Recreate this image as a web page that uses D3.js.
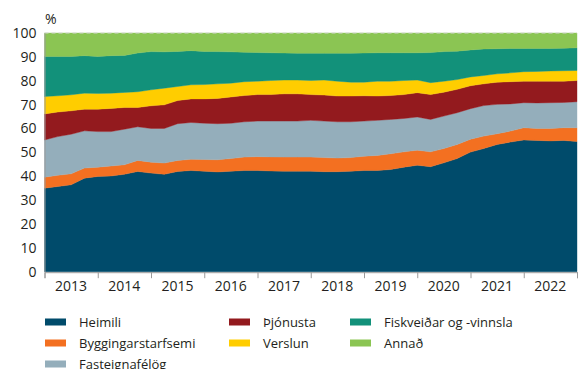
<!DOCTYPE html>
<html>
<head>
<meta charset="utf-8">
<script src="https://cdn.jsdelivr.net/npm/d3@7"></script>
<style>
  html, body { margin: 0; padding: 0; background: #fff; }
  svg { display: block; }
  text { font-family: "Open Sans", "Noto Sans", sans-serif; fill: #231f20; }
</style>
</head>
<body>
<svg id="chart" width="579" height="369"></svg>
<script>
// Quarterly observations, end of 2012 through end of 2022
const quarters = [
  "2012Q4",
  "2013Q1","2013Q2","2013Q3","2013Q4",
  "2014Q1","2014Q2","2014Q3","2014Q4",
  "2015Q1","2015Q2","2015Q3","2015Q4",
  "2016Q1","2016Q2","2016Q3","2016Q4",
  "2017Q1","2017Q2","2017Q3","2017Q4",
  "2018Q1","2018Q2","2018Q3","2018Q4",
  "2019Q1","2019Q2","2019Q3","2019Q4",
  "2020Q1","2020Q2","2020Q3","2020Q4",
  "2021Q1","2021Q2","2021Q3","2021Q4",
  "2022Q1","2022Q2","2022Q3","2022Q4"
];

// Share of total (%) by sector
const heimili = [35.0,35.7,36.4,39.2,39.9,40.1,40.8,42.0,41.3,40.8,42.0,42.4,42.1,41.8,42.1,42.4,42.4,42.2,42.1,42.1,42.1,41.9,41.9,42.1,42.4,42.4,42.8,43.8,44.6,44.0,45.6,47.4,50.1,51.6,53.3,54.3,55.2,55.0,54.8,55.0,54.5];
const bygg    = [4.6,4.7,4.6,4.2,3.9,4.2,4.0,4.6,4.6,4.7,4.6,4.7,4.9,5.1,5.3,5.6,5.8,5.9,5.9,5.9,5.9,5.9,5.7,5.7,6.0,6.3,6.6,6.4,6.3,6.2,6.0,5.9,5.4,5.2,4.5,4.6,5.1,5.0,5.2,5.3,5.8];
const fast    = [15.6,16.2,16.6,15.6,14.9,14.4,14.9,14.1,14.1,14.5,15.4,15.4,15.2,15.1,14.8,14.8,14.9,15.0,15.1,15.1,15.4,15.3,15.2,15.0,14.7,14.7,14.4,14.0,13.9,13.6,13.6,13.3,12.8,12.8,12.3,11.4,10.5,10.7,10.8,10.6,10.9];
const thjon   = [10.9,10.3,9.8,9.1,9.4,9.7,9.1,8.1,9.5,9.9,9.7,9.9,10.2,10.6,11.0,11.0,11.1,11.1,11.4,11.4,10.8,10.9,10.8,10.8,10.6,10.2,10.0,10.0,10.2,10.4,10.0,9.8,9.6,9.1,9.3,9.3,9.0,9.1,9.0,8.9,8.9];
const versl   = [7.3,6.8,6.7,6.7,6.6,6.4,6.3,6.6,6.7,7.0,5.9,5.9,6.0,6.1,5.8,5.8,5.6,5.9,5.8,5.8,5.9,6.3,6.2,5.8,5.7,6.2,6.0,5.9,5.3,5.0,4.6,4.1,3.7,3.5,3.5,3.7,4.0,4.1,4.3,4.4,4.2];
const fisk    = [16.8,16.5,16.1,15.7,15.5,15.7,15.5,16.2,16.0,15.2,14.7,14.3,13.9,13.5,13.1,12.3,12.0,11.6,11.3,11.2,11.4,11.2,11.7,12.1,12.2,11.9,11.9,11.6,11.4,12.6,12.4,11.9,11.3,11.1,10.5,10.2,9.7,9.6,9.4,9.4,9.5];
const annad   = [9.8,9.8,9.8,9.5,9.8,9.5,9.4,8.4,7.8,7.9,7.7,7.4,7.7,7.8,7.9,8.1,8.2,8.3,8.4,8.5,8.5,8.5,8.5,8.5,8.4,8.3,8.3,8.3,8.3,8.2,7.8,7.6,7.1,6.7,6.6,6.5,6.5,6.5,6.5,6.4,6.2];

const seriesNames = ["Heimili","Byggingarstarfsemi","Fasteignafélög","Þjónusta","Verslun","Fiskveiðar og -vinnsla","Annað"];
const seriesValues = [heimili, bygg, fast, thjon, versl, fisk, annad];
const seriesColors = ["#004b6b","#f37021","#94aebb","#931a1e","#ffcd00","#12917a","#8bc553"];

const yearLabels = ["2013","2014","2015","2016","2017","2018","2019","2020","2021","2022"];
const yTicks = [0,10,20,30,40,50,60,70,80,90,100];

// Rows for the stack layout
const rows = quarters.map((q, i) => {
  const r = { q };
  seriesNames.forEach((n, j) => { r[n] = seriesValues[j][i]; });
  return r;
});

const svg = d3.select("#chart");
const plot = { left: 44.5, right: 577, top: 33, bottom: 271.7 };

const x = d3.scalePoint().domain(quarters).range([plot.left, plot.right]);
const y = d3.scaleLinear().domain([0, 100]).range([plot.bottom, plot.top]);

const stacked = d3.stack().keys(seriesNames)(rows);

const area = d3.area()
  .x(d => x(d.data.q))
  .y0(d => y(d[0]))
  .y1(d => y(d[1]));

svg.append("g").selectAll("path")
  .data(stacked)
  .join("path")
  .attr("d", area)
  .attr("fill", (d, i) => seriesColors[i])
  .attr("stroke", (d, i) => seriesColors[i])
  .attr("stroke-width", 0.4);

// Dashed line at 100
svg.append("line")
  .attr("x1", plot.left).attr("x2", plot.right)
  .attr("y1", y(100)).attr("y2", y(100))
  .attr("stroke", "#d6d6d6").attr("stroke-width", 1)
  .attr("stroke-dasharray", "4,3");

// Y axis
const yAxis = d3.axisLeft(y).tickValues(yTicks).tickSize(0).tickPadding(8);
const gy = svg.append("g").attr("transform", `translate(${plot.left},0)`).call(yAxis);
gy.select(".domain").attr("stroke", "#9a9a9a").attr("stroke-width", 1);
gy.selectAll("text").style("font-size", "14px").attr("fill", "#231f20");

svg.append("text")
  .attr("x", 45).attr("y", 24)
  .style("font-size", "14px")
  .text("%");

// X axis: tick marks at year boundaries, year names centred between them
const boundaries = quarters.filter(q => q.endsWith("Q4"));
const xAxis = d3.axisBottom(x).tickValues(boundaries).tickSize(6).tickFormat("");
const gx = svg.append("g").attr("transform", `translate(0,${plot.bottom + 0.5})`).call(xAxis);
gx.select(".domain").attr("stroke", "#9a9a9a");
gx.selectAll(".tick line").attr("stroke", "#9a9a9a");

svg.append("g").selectAll("text")
  .data(yearLabels)
  .join("text")
  .attr("x", (d, i) => (x(boundaries[i]) + x(boundaries[i + 1])) / 2)
  .attr("y", 291)
  .attr("text-anchor", "middle")
  .style("font-size", "14px")
  .text(d => d);

// Legend, three columns
const legendCols = [[0, 1, 2], [3, 4], [5, 6]];
const colX = [45, 229, 350];
const legend = svg.append("g");
legendCols.forEach((col, c) => {
  col.forEach((si, r) => {
    const g = legend.append("g").attr("transform", `translate(${colX[c]},${322 + r * 21})`);
    g.append("rect").attr("x", 0).attr("y", -3.5).attr("width", 21).attr("height", 7)
      .attr("fill", seriesColors[si]);
    g.append("text").attr("x", 34).attr("y", 0).attr("dy", "0.35em")
      .style("font-size", "13px").text(seriesNames[si]);
  });
});
</script>
</body>
</html>
